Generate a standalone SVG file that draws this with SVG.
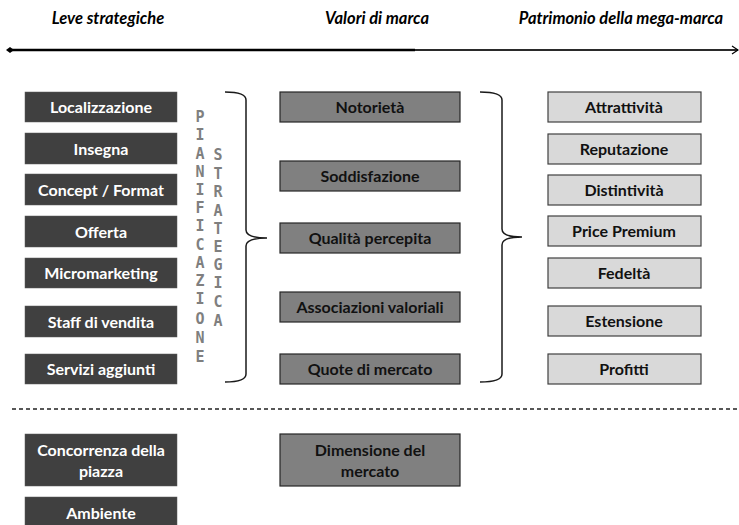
<svg xmlns="http://www.w3.org/2000/svg" width="739" height="525" viewBox="0 0 739 525">
<style>
.hdr{font-family:"Lato","Liberation Sans",sans-serif;font-weight:bold;font-style:italic;font-size:16.5px;fill:#000;text-anchor:middle}
.lv rect{fill:#404040;stroke:#595959;stroke-width:0.5}
.lv text{fill:#fff}
.vm rect{fill:#808080;stroke:#262626;stroke-width:1.2}
.vm text,.pm text{fill:#111}
.pm rect{fill:#d9d9d9;stroke:#404040;stroke-width:1.2}
text.b{font-family:"Lato","Liberation Sans",sans-serif;font-weight:bold;font-size:16px;text-anchor:middle}
.vt{font-family:"DejaVu Sans Mono","Liberation Mono",monospace;font-weight:bold;font-size:15px;fill:#7f7f7f;text-anchor:middle}
.brace{fill:none;stroke:#1a1a1a;stroke-width:1.5}
</style>
<defs>
<marker id="dia" markerWidth="8" markerHeight="8" refX="4" refY="4" orient="auto" markerUnits="userSpaceOnUse"><path d="M0,4 L4,1 L8,4 L4,7 Z" fill="#000"/></marker>
<marker id="arr" markerWidth="10" markerHeight="10" refX="8" refY="5" orient="auto" markerUnits="userSpaceOnUse"><path d="M2,1 L8,5 L2,9" fill="none" stroke="#000" stroke-width="1.2"/></marker>
</defs>

<g id="headers">
<text class="hdr" x="108" y="24">Leve strategiche</text>
<text class="hdr" x="377" y="24">Valori di marca</text>
<text class="hdr" x="621" y="24">Patrimonio della mega-marca</text>
</g>

<g id="connectors">
<line x1="10" y1="50" x2="415" y2="50" stroke="#000" stroke-width="2.5" marker-start="url(#dia)"/>
<line x1="415" y1="50" x2="738" y2="50" stroke="#2a2a2a" stroke-width="2" marker-end="url(#arr)"/>
<line x1="12" y1="409" x2="738" y2="409" stroke="#222" stroke-width="1.3" stroke-dasharray="4,3"/>
<path class="brace" d="M225,92 Q246,92 246,100 L246,230 Q246,238 267,238 Q246,238 246,246 L246,374 Q246,382 225,382"/>
<path class="brace" d="M480,92 Q502,92 502,100 L502,229 Q502,237 522,237 Q502,237 502,245 L502,374 Q502,382 480,382"/>
</g>

<g id="leve">
<g id="n-localizzazione" class="lv"><rect x="25" y="92" width="152" height="30"/><text class="b" x="101" y="113">Localizzazione</text></g>
<g id="n-insegna" class="lv"><rect x="25" y="133" width="152" height="31"/><text class="b" x="101" y="154.5">Insegna</text></g>
<g id="n-concept" class="lv"><rect x="25" y="174" width="152" height="31"/><text class="b" x="101" y="195.5">Concept / Format</text></g>
<g id="n-offerta" class="lv"><rect x="25" y="216" width="152" height="31"/><text class="b" x="101" y="237.5">Offerta</text></g>
<g id="n-micromarketing" class="lv"><rect x="25" y="258" width="152" height="30"/><text class="b" x="101" y="279">Micromarketing</text></g>
<g id="n-staff" class="lv"><rect x="25" y="306" width="152" height="31"/><text class="b" x="101" y="327.5">Staff di vendita</text></g>
<g id="n-servizi" class="lv"><rect x="25" y="354" width="152" height="30"/><text class="b" x="101" y="375">Servizi aggiunti</text></g>
<g id="n-concorrenza" class="lv"><rect x="25" y="434" width="152" height="52"/><text class="b" x="101" y="456">Concorrenza della</text><text class="b" x="101" y="477">piazza</text></g>
<g id="n-ambiente" class="lv"><rect x="25" y="497" width="152" height="31"/><text class="b" x="101" y="518.5">Ambiente</text></g>
</g>

<g id="pianificazione">
<text class="vt" x="200" y="122">P</text>
<text class="vt" x="200" y="140">I</text>
<text class="vt" x="200" y="159">A</text>
<text class="vt" x="200" y="177">N</text>
<text class="vt" x="200" y="195">I</text>
<text class="vt" x="200" y="213">F</text>
<text class="vt" x="200" y="231">I</text>
<text class="vt" x="200" y="250">C</text>
<text class="vt" x="200" y="268">A</text>
<text class="vt" x="200" y="286">Z</text>
<text class="vt" x="200" y="304">I</text>
<text class="vt" x="200" y="324">O</text>
<text class="vt" x="200" y="343">N</text>
<text class="vt" x="200" y="362">E</text>
<text class="vt" x="218" y="160">S</text>
<text class="vt" x="218" y="179">T</text>
<text class="vt" x="218" y="197">R</text>
<text class="vt" x="218" y="216">A</text>
<text class="vt" x="218" y="234">T</text>
<text class="vt" x="218" y="252">E</text>
<text class="vt" x="218" y="270">G</text>
<text class="vt" x="218" y="288">I</text>
<text class="vt" x="218" y="307">C</text>
<text class="vt" x="218" y="326">A</text>
</g>

<g id="valori">
<g id="n-notorieta" class="vm"><rect x="280" y="92" width="180" height="30"/><text class="b" x="370" y="113">Notorietà</text></g>
<g id="n-soddisfazione" class="vm"><rect x="280" y="161" width="180" height="30"/><text class="b" x="370" y="182">Soddisfazione</text></g>
<g id="n-qualita" class="vm"><rect x="280" y="223" width="180" height="30"/><text class="b" x="370" y="244">Qualità percepita</text></g>
<g id="n-associazioni" class="vm"><rect x="280" y="292" width="180" height="30"/><text class="b" x="370" y="313">Associazioni valoriali</text></g>
<g id="n-quote" class="vm"><rect x="280" y="354" width="180" height="30"/><text class="b" x="370" y="375">Quote di mercato</text></g>
<g id="n-dimensione" class="vm"><rect x="280" y="434" width="180" height="52"/><text class="b" x="370" y="456">Dimensione del</text><text class="b" x="370" y="477">mercato</text></g>
</g>

<g id="patrimonio">
<g id="n-attrattivita" class="pm"><rect x="548" y="92" width="153" height="30"/><text class="b" x="624" y="113">Attrattività</text></g>
<g id="n-reputazione" class="pm"><rect x="548" y="134" width="153" height="30"/><text class="b" x="624" y="155">Reputazione</text></g>
<g id="n-distintivita" class="pm"><rect x="548" y="175" width="153" height="30"/><text class="b" x="624" y="196">Distintività</text></g>
<g id="n-price" class="pm"><rect x="548" y="216" width="153" height="30"/><text class="b" x="624" y="237">Price Premium</text></g>
<g id="n-fedelta" class="pm"><rect x="548" y="258" width="153" height="30"/><text class="b" x="624" y="279">Fedeltà</text></g>
<g id="n-estensione" class="pm"><rect x="548" y="306" width="153" height="30"/><text class="b" x="624" y="327">Estensione</text></g>
<g id="n-profitti" class="pm"><rect x="548" y="354" width="153" height="30"/><text class="b" x="624" y="375">Profitti</text></g>
</g>
</svg>
